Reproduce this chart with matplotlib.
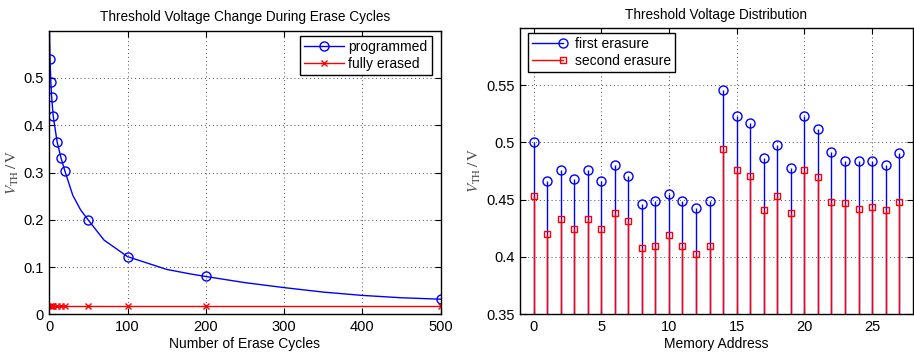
import numpy as np
import matplotlib
matplotlib.use('Agg')
from matplotlib import pyplot as plt
from matplotlib.legend_handler import HandlerLine2D
from matplotlib.lines import Line2D

# left: threshold voltage vs. erase cycles
cycles = [1, 2, 3, 5, 10, 15, 20, 50, 100, 200, 500]
programmed = [0.540, 0.492, 0.460, 0.420, 0.365, 0.331, 0.303, 0.199, 0.122, 0.080, 0.032]
erased = [0.017] * len(cycles)

# smooth curve through the programmed points
curve_x = [0, 0.5, 1, 2, 3, 5, 10, 15, 20, 30, 40, 50, 70, 100, 150, 180, 200, 250, 300, 350, 400, 450, 500]
curve_y = [0.64, 0.58, 0.540, 0.492, 0.460, 0.420, 0.365, 0.331, 0.303, 0.252, 0.221, 0.199, 0.157,
           0.122, 0.095, 0.0855, 0.080, 0.067, 0.0565, 0.047, 0.040, 0.035, 0.032]

# right: threshold voltage per memory address
address = list(range(28))
first_erasure = [0.500, 0.466, 0.476, 0.468, 0.476, 0.466, 0.480, 0.471, 0.446, 0.449,
                 0.455, 0.449, 0.443, 0.449, 0.546, 0.523, 0.517, 0.486, 0.498, 0.478,
                 0.523, 0.512, 0.492, 0.484, 0.484, 0.484, 0.480, 0.491]
second_erasure = [0.453, 0.420, 0.433, 0.424, 0.433, 0.424, 0.438, 0.431, 0.408, 0.410,
                  0.419, 0.410, 0.403, 0.410, 0.494, 0.476, 0.471, 0.441, 0.453, 0.438,
                  0.476, 0.470, 0.448, 0.447, 0.442, 0.444, 0.441, 0.448]

plt.rcParams['font.family'] = ['Liberation Sans', 'DejaVu Sans']
plt.rcParams['mathtext.fontset'] = 'stix'
plt.rcParams['font.size'] = 9.5


class StemHandler(HandlerLine2D):
    # marker at the right end of the legend line, like a matlab stem legend
    def create_artists(self, legend, orig_handle, xdescent, ydescent, width, height, fontsize, trans):
        arts = super().create_artists(legend, orig_handle, xdescent, ydescent, width, height, fontsize, trans)
        arts[0].set_markevery([len(arts[0].get_xdata()) - 1])
        return arts


def style_axes(ax):
    ax.tick_params(direction='in', top=True, right=True, length=4, width=0.8, pad=4, labelsize=10.5)
    ax.grid(True, color='0.3', linestyle=(0, (1, 3)), linewidth=0.7)
    for s in ax.spines.values():
        s.set_linewidth(1.0)


fig = plt.figure(figsize=(9.14, 3.53), dpi=100)
ax1 = fig.add_axes([0.0539, 0.1096, 0.4282, 0.8034])
ax2 = fig.add_axes([0.5689, 0.1096, 0.4297, 0.8119])

ax1.plot(curve_x, curve_y, color='b', linewidth=1.0)
ax1.plot(cycles, programmed, linestyle='none', marker='o', markersize=6.5,
         markerfacecolor='none', markeredgecolor='b', markeredgewidth=1.0)
ax1.plot(cycles, erased, color='r', linewidth=1.0, marker='x', markersize=4.5, markeredgewidth=1.0)
ax1.set_xlim(0, 500)
ax1.set_ylim(0, 0.6)
ax1.set_xticks(range(0, 501, 100))
ax1.set_yticks([0, 0.1, 0.2, 0.3, 0.4, 0.5])
ax1.set_yticklabels(['0', '0.1', '0.2', '0.3', '0.4', '0.5'])
style_axes(ax1)
ax1.set_title('Threshold Voltage Change During Erase Cycles', fontsize=9.8, pad=7)
ax1.set_xlabel('Number of Erase Cycles', fontsize=10, labelpad=2)
ax1.set_ylabel(r'$V_{\mathrm{TH}}\,/\,\mathrm{V}$', fontsize=11, color='0.3', labelpad=2)
h1 = [Line2D([], [], color='b', linewidth=1.0, marker='o', markersize=6.5,
             markerfacecolor='none', markeredgewidth=1.0),
      Line2D([], [], color='r', linewidth=1.0, marker='x', markersize=4.5, markeredgewidth=1.0)]
ax1.legend(h1, ['programmed', 'fully erased'], loc='upper right', bbox_to_anchor=(0.977, 0.982),
           borderaxespad=0, fancybox=False, edgecolor='k', framealpha=1, fontsize=10,
           handlelength=2.9, handletextpad=0.3, labelspacing=0.2, borderpad=0.3,
           numpoints=1).get_frame().set_linewidth(1.0)

ax2.vlines(address, 0.35, first_erasure, color='b', linewidth=1.0)
ax2.plot(address, first_erasure, linestyle='none', marker='o', markersize=6.5,
         markerfacecolor='none', markeredgecolor='b', markeredgewidth=1.0)
ax2.vlines(address, 0.35, second_erasure, color='r', linewidth=1.0)
ax2.plot(address, second_erasure, linestyle='none', marker='s', markersize=5,
         markerfacecolor='none', markeredgecolor='r', markeredgewidth=1.0)
ax2.set_xlim(-1, 28)
ax2.set_ylim(0.35, 0.6)
ax2.set_xticks(range(0, 26, 5))
ax2.set_yticks([0.35, 0.4, 0.45, 0.5, 0.55])
ax2.set_yticklabels(['0.35', '0.4', '0.45', '0.5', '0.55'])
style_axes(ax2)
ax2.set_title('Threshold Voltage Distribution', fontsize=9.8, pad=6)
ax2.set_xlabel('Memory Address', fontsize=10, labelpad=2)
ax2.set_ylabel(r'$V_{\mathrm{TH}}\,/\,\mathrm{V}$', fontsize=11, color='0.3', labelpad=2)
h2 = [Line2D([], [], color='b', linewidth=1.0, marker='o', markersize=6.5,
             markerfacecolor='none', markeredgewidth=1.0),
      Line2D([], [], color='r', linewidth=1.0, marker='s', markersize=5,
             markerfacecolor='none', markeredgewidth=1.0)]
ax2.legend(h2, ['first erasure', 'second erasure'], loc='upper left', bbox_to_anchor=(0.02, 0.982),
           borderaxespad=0, fancybox=False, edgecolor='k', framealpha=1, fontsize=10,
           handlelength=2.2, handletextpad=0.9, labelspacing=0.2, borderpad=0.3,
           numpoints=1, handler_map={Line2D: StemHandler()}).get_frame().set_linewidth(1.0)

fig.savefig('out.png', dpi=100)
